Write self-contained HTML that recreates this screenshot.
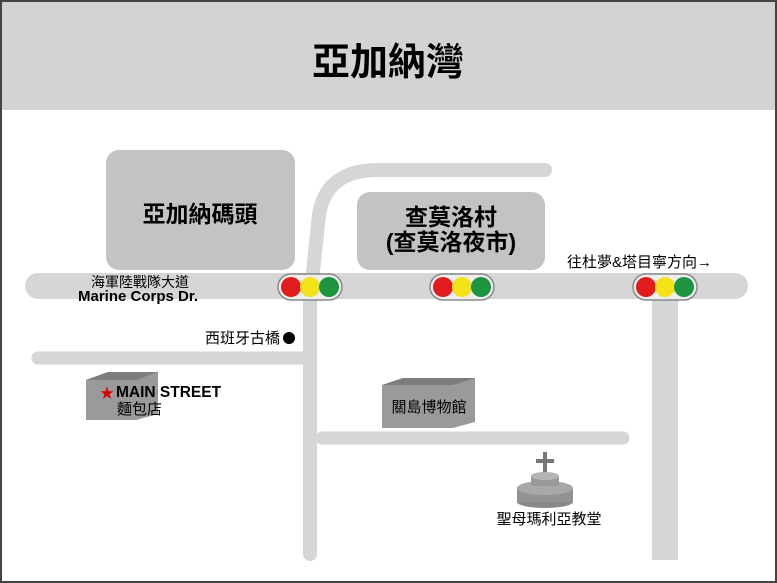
<!DOCTYPE html>
<html><head><meta charset="utf-8"><style>
html,body{margin:0;padding:0;background:#fff;}
svg{display:block;}
text{font-family:"Liberation Sans","Noto Sans CJK TC",sans-serif;}
</style></head><body>
<svg width="777" height="583" viewBox="0 0 777 583" xmlns="http://www.w3.org/2000/svg">
<rect x="1" y="1" width="775" height="581" fill="#fff" stroke="#444" stroke-width="2"/>
<rect x="2" y="2" width="773" height="108" fill="#d3d3d3"/>
<text x="388" y="75" text-anchor="middle" font-size="38" font-weight="bold" fill="#000">亞加納灣</text>
<g stroke="#d6d6d6" stroke-linecap="round" fill="none">
<path d="M310,554 L310,300 L319,215 Q326,170 378,170 L545,170" stroke-width="14"/>
<line x1="38" y1="358" x2="306" y2="358" stroke-width="13"/>
<line x1="322" y1="438" x2="623" y2="438" stroke-width="13"/>
<line x1="665" y1="295" x2="665" y2="560" stroke-width="26" stroke-linecap="butt"/>
<line x1="38" y1="286" x2="735" y2="286" stroke-width="26"/>
</g>
<rect x="106" y="150" width="189" height="120" rx="13" fill="#c3c3c3"/>
<text x="200" y="222" text-anchor="middle" font-size="23" font-weight="bold">亞加納碼頭</text>
<rect x="357" y="192" width="188" height="78" rx="13" fill="#c3c3c3"/>
<text x="451" y="225" text-anchor="middle" font-size="23" font-weight="bold">查莫洛村</text>
<text x="451" y="250" text-anchor="middle" font-size="23" font-weight="bold">(查莫洛夜市)</text>
<text x="140" y="287" text-anchor="middle" font-size="14">海軍陸戰隊大道</text>
<text x="138" y="301" text-anchor="middle" font-size="15" font-weight="bold">Marine Corps Dr.</text>
<text x="712" y="267" text-anchor="end" font-size="15">往杜夢&amp;塔目寧方向→</text>
<g id="tl">
<rect x="278" y="274" width="64" height="26" rx="13" fill="#eee" stroke="#888" stroke-width="1.5"/>
<circle cx="291" cy="287" r="10" fill="#e21c1c"/>
<circle cx="310" cy="287" r="10" fill="#f4e21a"/>
<circle cx="329" cy="287" r="10" fill="#1c9440"/>
</g>
<use href="#tl" x="152"/>
<use href="#tl" x="355"/>
<text x="280" y="343" text-anchor="end" font-size="15">西班牙古橋</text>
<circle cx="289" cy="338" r="6" fill="#000"/>
<polygon points="86,380 108,372 158,372 158,414 136,420 86,420" fill="#9a9a9a"/>
<polygon points="86,380 108,372 158,372 136,380" fill="#7d7d7d"/>
<text x="100" y="398" font-size="14" fill="#d00">★</text>
<text x="116" y="397" font-size="15.5" font-weight="bold">MAIN STREET</text>
<text x="117" y="414" font-size="15">麵包店</text>
<polygon points="382,385 403,378 475,378 475,422 453,428 382,428" fill="#9a9a9a"/>
<polygon points="382,385 403,378 475,378 453,385" fill="#7d7d7d"/>
<text x="429" y="412" text-anchor="middle" font-size="15">關島博物館</text>
<rect x="543" y="452" width="4" height="24" fill="#777"/>
<rect x="536" y="459" width="18" height="4" fill="#777"/>
<ellipse cx="545" cy="502" rx="28" ry="6" fill="#8a8a8a"/>
<rect x="517" y="488" width="56" height="14" fill="#939393"/>
<ellipse cx="545" cy="488" rx="28" ry="7" fill="#a8a8a8"/>
<rect x="531" y="476" width="28" height="10" fill="#999"/>
<ellipse cx="545" cy="476" rx="14" ry="4" fill="#b5b5b5"/>
<text x="549" y="524" text-anchor="middle" font-size="15">聖母瑪利亞教堂</text>
</svg>
</body></html>
